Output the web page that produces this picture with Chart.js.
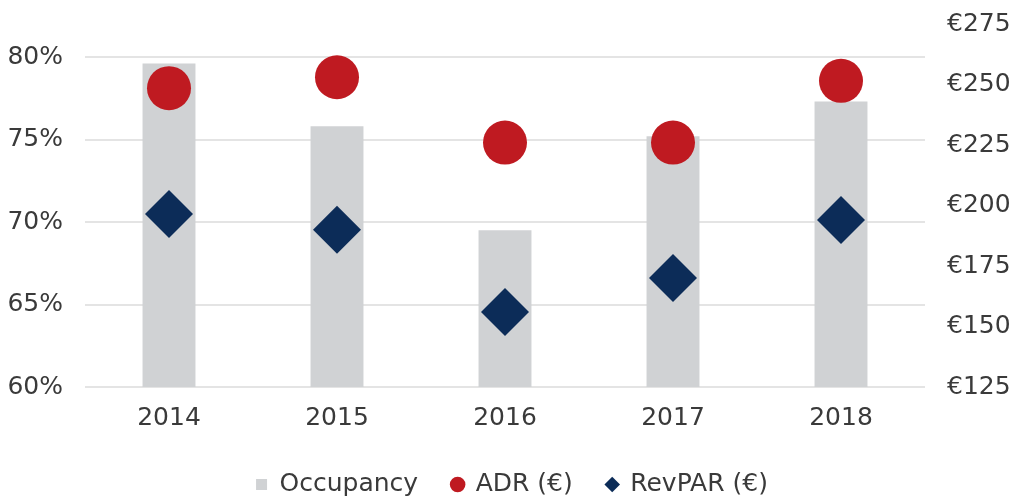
<!DOCTYPE html>
<html>
<head>
<meta charset="utf-8">
<script src="https://cdn.jsdelivr.net/npm/chart.js@4/dist/chart.umd.min.js"></script>
<style>
  html, body { margin: 0; padding: 0; background: #fff; }
  #wrap { width: 1024px; height: 503px; }
</style>
</head>
<body>
<div id="wrap"><canvas id="hotelChart"></canvas></div>
<script>
// values
var years     = ['2014', '2015', '2016', '2017', '2018'];
var occupancy = [79.6, 75.8, 69.5, 75.2, 77.3];   // %
var adr       = [248.5, 253, 226, 226, 251.5];     // EUR
var revpar    = [196.5, 190, 156, 170, 194];       // EUR
var pctTicks  = [60, 65, 70, 75, 80];
var eurTicks  = [125, 150, 175, 200, 225, 250, 275];

var legendStyles = ['rect', 'circle', 'rectRot'];

(function(){
  var font = { family: '"DejaVu Sans", sans-serif', size: 25 };
  var textColor = '#3a3a3a';

  // keep the legend a fixed height so the plot area sits where the reference has it
  var legendHeight = {
    id: 'legendHeight',
    beforeLayout: function(chart){
      var lg = chart.legend;
      if (lg && !lg._fixedFit) {
        var fit = lg.fit;
        lg.fit = function(){ fit.call(this); this.height = 65; };
        lg._fixedFit = true;
      }
    }
  };

  function noVertPad(scale){
    scale.paddingTop = 0;
    scale.paddingBottom = 0;
  }

  var ctx = document.getElementById('hotelChart').getContext('2d');
  new Chart(ctx, {
    type: 'bar',
    data: {
      labels: years,
      datasets: [{
        type: 'bar',
        label: 'Occupancy',
        data: occupancy,
        yAxisID: 'yPct',
        backgroundColor: '#d0d2d4',
        barPercentage: 0.315,
        categoryPercentage: 1,
        order: 2
      }, {
        type: 'line',
        label: 'ADR (€)',
        data: adr,
        yAxisID: 'yEur',
        showLine: false,
        pointStyle: 'circle',
        pointRadius: 22,
        pointBackgroundColor: '#bf1a21',
        pointBorderWidth: 0,
        backgroundColor: '#bf1a21',
        borderColor: '#bf1a21',
        order: 0
      }, {
        type: 'line',
        label: 'RevPAR (€)',
        data: revpar,
        yAxisID: 'yEur',
        showLine: false,
        pointStyle: 'rectRot',
        pointRadius: 24,
        pointBackgroundColor: '#0c2c58',
        pointBorderWidth: 0,
        backgroundColor: '#0c2c58',
        borderColor: '#0c2c58',
        order: 1
      }]
    },
    plugins: [legendHeight],
    options: {
      responsive: true,
      maintainAspectRatio: false,
      animation: false,
      events: [],
      layout: { padding: { top: 21, bottom: 0 } },
      scales: {
        x: {
          grid: { display: false },
          border: { display: false },
          ticks: { font: font, color: textColor, padding: 8 },
          afterFit: function(scale){ scale.height = 51; scale.paddingLeft = 0; scale.paddingRight = 0; }
        },
        yPct: {
          position: 'left',
          min: 60,
          max: 82,
          afterBuildTicks: function(scale){
            scale.ticks = pctTicks.map(function(v){ return { value: v }; });
          },
          afterFit: function(scale){ scale.width = 85; noVertPad(scale); },
          grid: { color: '#e4e4e4', lineWidth: 2, drawTicks: false },
          border: { display: false },
          ticks: {
            font: font, color: textColor, padding: 22,
            callback: function(v){ return v + '%'; }
          }
        },
        yEur: {
          position: 'right',
          min: 125,
          max: 275,
          afterBuildTicks: function(scale){
            scale.ticks = eurTicks.map(function(v){ return { value: v }; });
          },
          afterFit: function(scale){ scale.width = 99; noVertPad(scale); },
          grid: { display: false, drawTicks: false },
          border: { display: false },
          ticks: {
            font: font, color: textColor, padding: 22,
            callback: function(v){ return '€' + v; }
          }
        }
      },
      plugins: {
        tooltip: { enabled: false },
        legend: {
          position: 'bottom',
          labels: {
            font: font,
            color: textColor,
            usePointStyle: true,
            boxWidth: 11,
            boxHeight: 11,
            padding: 34,
            sort: function(a, b){ return a.datasetIndex - b.datasetIndex; },
            generateLabels: function(chart){
              var items = Chart.defaults.plugins.legend.labels.generateLabels(chart);
              items.forEach(function(it){
                it.pointStyle = legendStyles[it.datasetIndex];
                it.lineWidth = 0;
              });
              return items;
            }
          }
        }
      }
    }
  });
})();
</script>
</body>
</html>
